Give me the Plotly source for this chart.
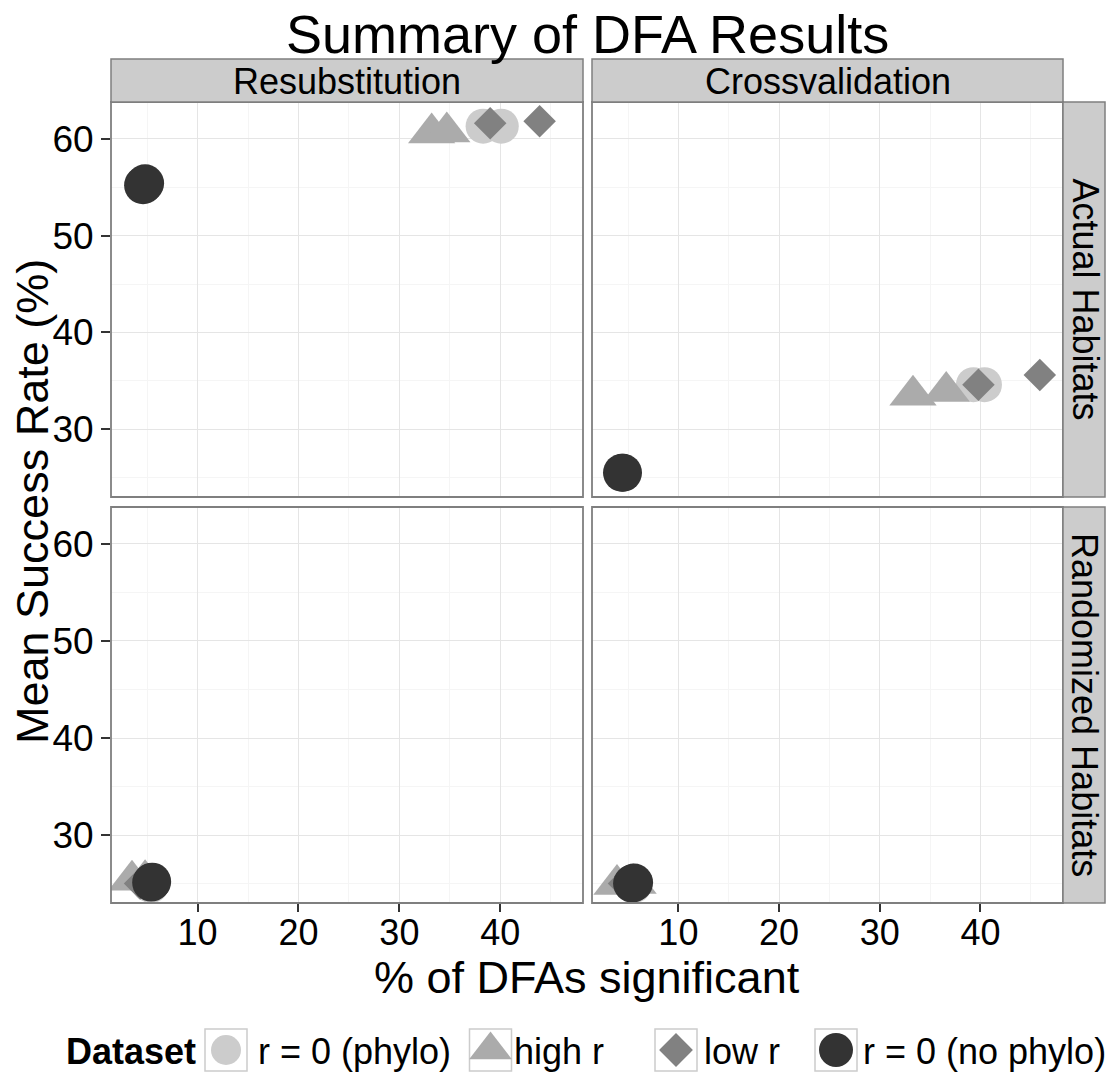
import plotly.graph_objects as go

# ---------------- data ----------------
datasets = ["r = 0 (phylo)", "high r", "low r", "r = 0 (no phylo)"]
habitats = ["Actual Habitats", "Randomized Habitats"]
methods = ["Resubstitution", "Crossvalidation"]

# two runs per facet, facet order: (Actual,Resub),(Actual,Cross),(Random,Resub),(Random,Cross)
point_habitat = ["Actual Habitats"] * 4 + ["Randomized Habitats"] * 4
point_method = ["Resubstitution", "Resubstitution", "Crossvalidation", "Crossvalidation"] * 2

phylo_x = [38.3, 40.1, 39.3, 40.4, 5.2, 5.4, 5.3, 5.6]
phylo_y = [61.3, 61.3, 34.6, 34.6, 24.9, 24.8, 24.9, 24.8]
highr_x = [33.2, 34.7, 33.3, 36.6, 3.5, 4.8, 3.9, 5.5]
highr_y = [60.6, 60.7, 33.5, 33.9, 25.35, 25.4, 24.9, 25.0]
lowr_x = [39.0, 43.9, 39.8, 45.9, 4.3, 5.0, 4.6, 5.2]
lowr_y = [61.6, 61.8, 34.6, 35.6, 25.0, 25.1, 25.0, 25.1]
nophylo_x = [4.6, 4.8, 4.4, 4.5, 5.4, 5.5, 5.4, 5.6]
nophylo_y = [55.2, 55.4, 25.5, 25.5, 25.1, 25.2, 25.0, 25.1]

x_ticks = [10, 20, 30, 40]
y_ticks = [30, 40, 50, 60]

series_x = [phylo_x, highr_x, lowr_x, nophylo_x]
series_y = [phylo_y, highr_y, lowr_y, nophylo_y]

# ---------------- styles ----------------
colors = ["#CCCCCC", "#ABABAB", "#818181", "#333333"]
symbols = ["circle", "triangle-up", "diamond", "circle"]
sizes = [35, 41, 25, 38]
legend_sizes = [30, 37, 26, 34]

FONT = "Liberation Sans, Arial, Helvetica, sans-serif"
W, H = 1106, 1074


def px(x):
    return x / W


def py(y):
    return 1 - y / H


X_RANGE = [1.42, 48.2]
Y_RANGE = [23.0, 63.8]

col_dom = [[px(111), px(583)], [px(592), px(1063)]]
row_dom = [[py(497), py(102)], [py(903), py(507)]]

panels = []
k = 1
for r, hab in enumerate(habitats):
    for c, meth in enumerate(methods):
        panels.append((hab, meth, r, c, k))
        k += 1

fig = go.Figure()

for s, name in enumerate(datasets):
    for hab, meth, r, c, k in panels:
        xs = [x for x, h, m in zip(series_x[s], point_habitat, point_method) if h == hab and m == meth]
        ys = [y for y, h, m in zip(series_y[s], point_habitat, point_method) if h == hab and m == meth]
        sfx = "" if k == 1 else str(k)
        fig.add_trace(go.Scatter(
            x=xs, y=ys, mode="markers", name=name, showlegend=False,
            xaxis="x" + sfx, yaxis="y" + sfx,
            marker=dict(symbol=symbols[s], size=sizes[s], color=colors[s],
                        line=dict(width=0)),
            hoverinfo="x+y+name",
        ))

# legend markers on a helper axis
legend_key_x = [226, 490.5, 676, 836]
for s, name in enumerate(datasets):
    fig.add_trace(go.Scatter(
        x=[legend_key_x[s]], y=[0], mode="markers", showlegend=False,
        xaxis="x5", yaxis="y5", hoverinfo="skip",
        marker=dict(symbol=symbols[s], size=legend_sizes[s], color=colors[s], line=dict(width=0)),
    ))

layout = dict(
    width=W, height=H,
    margin=dict(l=0, r=0, t=0, b=0),
    paper_bgcolor="white", plot_bgcolor="white",
    font=dict(family=FONT, color="black"),
    showlegend=False,
)

grid_major = "#E5E5E5"
grid_minor = "#F5F5F5"

for hab, meth, r, c, k in panels:
    sfx = "" if k == 1 else str(k)
    bottom = (r == 1)
    left = (c == 0)
    layout["xaxis" + sfx] = dict(
        domain=col_dom[c], anchor="y" + sfx, range=X_RANGE,
        tickmode="array", tickvals=x_ticks,
        showticklabels=bottom, ticks="outside" if bottom else "",
        ticklen=8, tickwidth=1.5, tickcolor="#333333",
        ticklabelstandoff=-10,
        tickfont=dict(size=36, color="black", family=FONT),
        showgrid=True, gridcolor=grid_major, gridwidth=1.2,
        minor=dict(tickmode="array", tickvals=[5, 15, 25, 35, 45], showgrid=True,
                   gridcolor=grid_minor, gridwidth=1, ticks=""),
        zeroline=False, showline=False,
    )
    layout["yaxis" + sfx] = dict(
        domain=row_dom[r], anchor="x" + sfx, range=Y_RANGE,
        tickmode="array", tickvals=y_ticks,
        showticklabels=left, ticks="outside" if left else "",
        ticklen=9, tickwidth=1.5, tickcolor="#333333",
        tickfont=dict(size=37, color="black", family=FONT),
        showgrid=True, gridcolor=grid_major, gridwidth=1.2,
        minor=dict(tickmode="array", tickvals=[25, 35, 45, 55], showgrid=True,
                   gridcolor=grid_minor, gridwidth=1, ticks=""),
        zeroline=False, showline=False,
    )

layout["xaxis5"] = dict(domain=[0, 1], anchor="y5", range=[0, W], visible=False, fixedrange=True)
layout["yaxis5"] = dict(domain=[py(1071), py(1029)], anchor="x5", range=[-1, 1], visible=False, fixedrange=True)

shapes = []
# panel borders
for hab, meth, r, c, k in panels:
    sfx = "" if k == 1 else str(k)
    shapes.append(dict(type="rect", xref="x" + sfx + " domain", yref="y" + sfx + " domain",
                       x0=0, x1=1, y0=0, y1=1, line=dict(color="#7F7F7F", width=1.8),
                       fillcolor="rgba(0,0,0,0)", layer="above"))
# top strips
for c in range(2):
    shapes.append(dict(type="rect", xref="paper", yref="paper",
                       x0=col_dom[c][0], x1=col_dom[c][1], y0=py(102), y1=py(59),
                       line=dict(color="#7F7F7F", width=1.5), fillcolor="#CCCCCC", layer="above"))
# right strips
for r in range(2):
    shapes.append(dict(type="rect", xref="paper", yref="paper",
                       x0=px(1063), x1=px(1105), y0=row_dom[r][0], y1=row_dom[r][1],
                       line=dict(color="#7F7F7F", width=1.5), fillcolor="#CCCCCC", layer="above"))
# legend key boxes
for xc in legend_key_x:
    shapes.append(dict(type="rect", xref="paper", yref="paper",
                       x0=px(xc - 21), x1=px(xc + 21), y0=py(1071), y1=py(1029),
                       line=dict(color="#CCCCCC", width=1.5), fillcolor="white", layer="below"))
layout["shapes"] = shapes

ann = []
ann.append(dict(text="Summary of DFA Results", xref="paper", yref="paper",
                x=px(587), y=py(34), xanchor="center", yanchor="middle", showarrow=False,
                font=dict(size=54, family=FONT, color="black")))
ann.append(dict(text="% of DFAs significant", xref="paper", yref="paper",
                x=px(587), y=py(977), xanchor="center", yanchor="middle", showarrow=False,
                font=dict(size=45, family=FONT, color="black")))
ann.append(dict(text="Mean Success Rate (%)", xref="paper", yref="paper",
                x=px(32), y=py(502), xanchor="center", yanchor="middle", showarrow=False,
                textangle=-90, font=dict(size=45, family=FONT, color="black")))
for c, meth in enumerate(methods):
    ann.append(dict(text=meth, xref="paper", yref="paper",
                    x=(col_dom[c][0] + col_dom[c][1]) / 2, y=py(81), xanchor="center", yanchor="middle",
                    showarrow=False, font=dict(size=36, family=FONT, color="black")))
for r, hab in enumerate(habitats):
    ann.append(dict(text=hab, xref="paper", yref="paper",
                    x=px(1085), y=(row_dom[r][0] + row_dom[r][1]) / 2, xanchor="center", yanchor="middle",
                    textangle=90, showarrow=False, font=dict(size=36, family=FONT, color="black")))
# legend texts
ann.append(dict(text="<b>Dataset</b>", xref="paper", yref="paper", x=px(64), y=py(1051),
                xanchor="left", yanchor="middle", showarrow=False,
                font=dict(size=36, family=FONT, color="black")))
legend_label_x = [256, 512, 702, 861]
for s, name in enumerate(datasets):
    ann.append(dict(text=name, xref="paper", yref="paper", x=px(legend_label_x[s]), y=py(1051),
                    xanchor="left", yanchor="middle", showarrow=False,
                    font=dict(size=36, family=FONT, color="black")))
layout["annotations"] = ann

fig.update_layout(**layout)
fig.write_html("out.html")
